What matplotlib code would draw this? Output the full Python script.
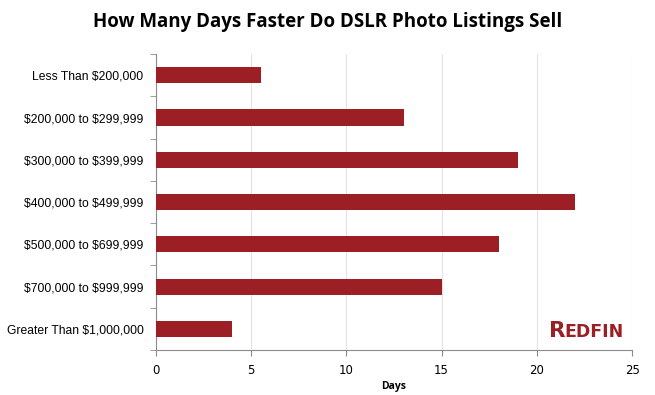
import matplotlib
matplotlib.use("Agg")
import matplotlib.pyplot as plt
import numpy as np

plt.rcParams["text.parse_math"] = False

categories = ["Less Than $200,000", "$200,000 to $299,999", "$300,000 to $399,999",
              "$400,000 to $499,999", "$500,000 to $699,999", "$700,000 to $999,999",
              "Greater Than $1,000,000"]
days = [5.5, 13, 19, 22, 18, 15, 4]
xticks = [0, 5, 10, 15, 20, 25]

bar_color = "#9b1f24"
axis_color = "#8c8c8c"

fig = plt.figure(figsize=(6.55, 3.95), dpi=100)
ax = fig.add_axes([0.238, 0.114, 0.727, 0.749])

y = np.arange(len(categories))
ax.barh(y, days, height=0.38, color=bar_color, zorder=3)
ax.set_ylim(len(categories) - 0.5, -0.5)
ax.set_xlim(0, 25)

ax.set_yticks(y)
ax.set_yticklabels(categories, fontsize=8.7, family="Liberation Sans")
ax.set_yticks(np.arange(-0.5, len(categories)), minor=True)
ax.tick_params(axis="y", which="major", length=0, pad=9)
ax.tick_params(axis="y", which="minor", length=4, color=axis_color, direction="out")

ax.set_xticks(xticks)
ax.set_xticklabels([str(t) for t in xticks], fontsize=8.5, family="DejaVu Sans")
ax.tick_params(axis="x", length=4, color=axis_color, direction="out", pad=6)
ax.xaxis.grid(True, color="#e4e4e4", linewidth=0.8, zorder=0)

for s in ["top", "right"]:
    ax.spines[s].set_visible(False)
for s in ["left", "bottom"]:
    ax.spines[s].set_color(axis_color)

ax.set_xlabel("Days", fontsize=7.5, fontweight="bold", family="Open Sans", labelpad=3)

fig.text(0.5, 0.945, "How Many Days Faster Do DSLR Photo Listings Sell",
         ha="center", va="center", fontsize=13.5, fontweight="bold", family="Open Sans")

fig.text(0.838, 0.148, "R", ha="left", va="baseline", fontsize=15.5,
         fontweight="bold", color=bar_color, family="DejaVu Sans")
fig.text(0.862, 0.148, "EDFIN", ha="left", va="baseline", fontsize=12.5,
         fontweight="bold", color=bar_color, family="DejaVu Sans")

fig.savefig("out.png", dpi=100)
